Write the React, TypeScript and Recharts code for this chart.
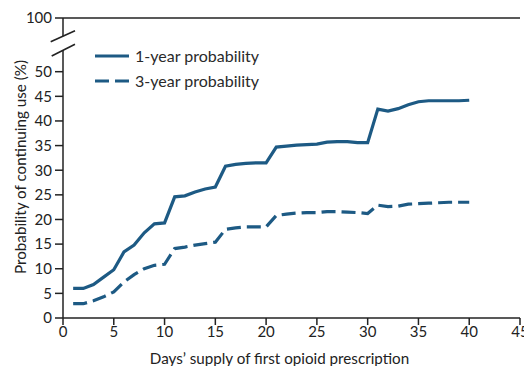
import { Line, LineChart, ReferenceLine, XAxis, YAxis } from 'recharts'

// days' supply of first prescription
const days = [
  1, 2, 3, 4, 5, 6, 7, 8, 9, 10, 11, 12, 13, 14, 15, 16, 17, 18, 19, 20,
  21, 22, 23, 24, 25, 26, 27, 28, 29, 30, 31, 32, 33, 34, 35, 36, 37, 38, 39, 40,
]

const oneYear = [
  6.0, 6.0, 6.8, 8.3, 9.8, 13.4, 14.8, 17.3, 19.1, 19.3,
  24.6, 24.8, 25.6, 26.2, 26.6, 30.8, 31.2, 31.4, 31.5, 31.5,
  34.7, 34.9, 35.1, 35.2, 35.3, 35.7, 35.8, 35.8, 35.6, 35.6,
  42.4, 42.0, 42.5, 43.3, 43.9, 44.1, 44.1, 44.1, 44.1, 44.2,
]

const threeYear = [
  2.9, 2.9, 3.5, 4.3, 5.3, 7.3, 8.8, 10.0, 10.7, 10.9,
  14.1, 14.4, 14.8, 15.1, 15.4, 18.0, 18.3, 18.5, 18.5, 18.5,
  20.8, 21.1, 21.3, 21.4, 21.4, 21.6, 21.6, 21.5, 21.4, 21.2,
  22.9, 22.6, 22.7, 23.1, 23.2, 23.3, 23.4, 23.5, 23.5, 23.5,
]

const xTicks = [0, 5, 10, 15, 20, 25, 30, 35, 40, 45]
// axis is broken above 50; the top tick stands for 100
const breakTop = 60.9
const yTicks = [0, 5, 10, 15, 20, 25, 30, 35, 40, 45, 50, breakTop]

const series = [
  { key: 'oneYear', name: '1-year probability', dash: undefined },
  { key: 'threeYear', name: '3-year probability', dash: '14 6' },
]

const chartData = days.map((day, i) => ({
  day,
  oneYear: oneYear[i],
  threeYear: threeYear[i],
}))

const lineColor = '#1d5a84'
const inkColor = '#222'
const fontFamily = 'Lato, "Open Sans", sans-serif'

function ChartLegend() {
  return (
    <div
      style={{
        position: 'absolute',
        left: 95,
        top: 43,
        fontFamily,
        fontSize: 16,
        color: '#2a2a2a',
      }}
    >
      {series.map((s) => (
        <div key={s.key} style={{ display: 'flex', alignItems: 'center', height: 25 }}>
          <svg width={34} height={6} style={{ marginRight: 6 }}>
            <line x1={0} y1={3} x2={34} y2={3} stroke={lineColor} strokeWidth={3.2} strokeDasharray={s.dash} />
          </svg>
          <span>{s.name}</span>
        </div>
      ))}
    </div>
  )
}

function YTitle(props: any) {
  const vb = props.viewBox || { x: 0, y: 18, width: 63, height: 300 }
  const cx = 20
  const cy = vb.y + vb.height / 2 - 1
  return (
    <text
      x={cx}
      y={cy}
      transform={`rotate(-90 ${cx} ${cy})`}
      textAnchor="middle"
      dominantBaseline="central"
      fill={inkColor}
      fontSize={15.2}
      fontFamily={fontFamily}
    >
      Probability of continuing use (%)
    </text>
  )
}

export default function App() {
  return (
    <div style={{ position: 'relative', width: 524, height: 366, background: '#fff' }}>
      <style>{'body{margin:0}'}</style>
      <LineChart width={524} height={366} data={chartData} margin={{ top: 18, right: 4, left: 0, bottom: 0 }}>
        <XAxis
          dataKey="day"
          type="number"
          domain={[0, 45]}
          ticks={xTicks}
          interval={0}
          height={48}
          tickSize={7}
          tickMargin={1}
          stroke={inkColor}
          strokeWidth={1.5}
          tick={{ fill: inkColor, fontSize: 15, fontFamily }}
          label={{
            value: 'Days’ supply of first opioid prescription',
            position: 'insideBottom',
            offset: 2,
            dx: -12,
            fill: inkColor,
            fontSize: 15.2,
            fontFamily,
          }}
        />
        <YAxis
          type="number"
          domain={[0, breakTop]}
          ticks={yTicks}
          interval={0}
          width={63}
          tickSize={8}
          tickMargin={3}
          stroke={inkColor}
          strokeWidth={1.5}
          tickFormatter={(v) => (v > 55 ? '100' : String(v))}
          tick={{ fill: inkColor, fontSize: 15, fontFamily }}
          label={<YTitle />}
        />
        <ReferenceLine y={breakTop} stroke={inkColor} strokeWidth={1.5} />
        {series.map((s) => (
          <Line
            key={s.key}
            dataKey={s.key}
            name={s.name}
            stroke={lineColor}
            strokeWidth={3.2}
            strokeDasharray={s.dash}
            dot={false}
            activeDot={false}
            type="linear"
            isAnimationActive={false}
          />
        ))}
      </LineChart>
      <ChartLegend />
      {/* axis break marks */}
      <svg
        width={524}
        height={366}
        style={{ position: 'absolute', left: 0, top: 0, pointerEvents: 'none' }}
      >
        <rect x={58} y={36} width={10} height={14} fill="#fff" />
        <line x1={50.7} y1={41.7} x2={75} y2={30.7} stroke={inkColor} strokeWidth={1.6} />
        <line x1={51.7} y1={56} x2={75} y2={44.3} stroke={inkColor} strokeWidth={1.6} />
      </svg>
    </div>
  )
}
